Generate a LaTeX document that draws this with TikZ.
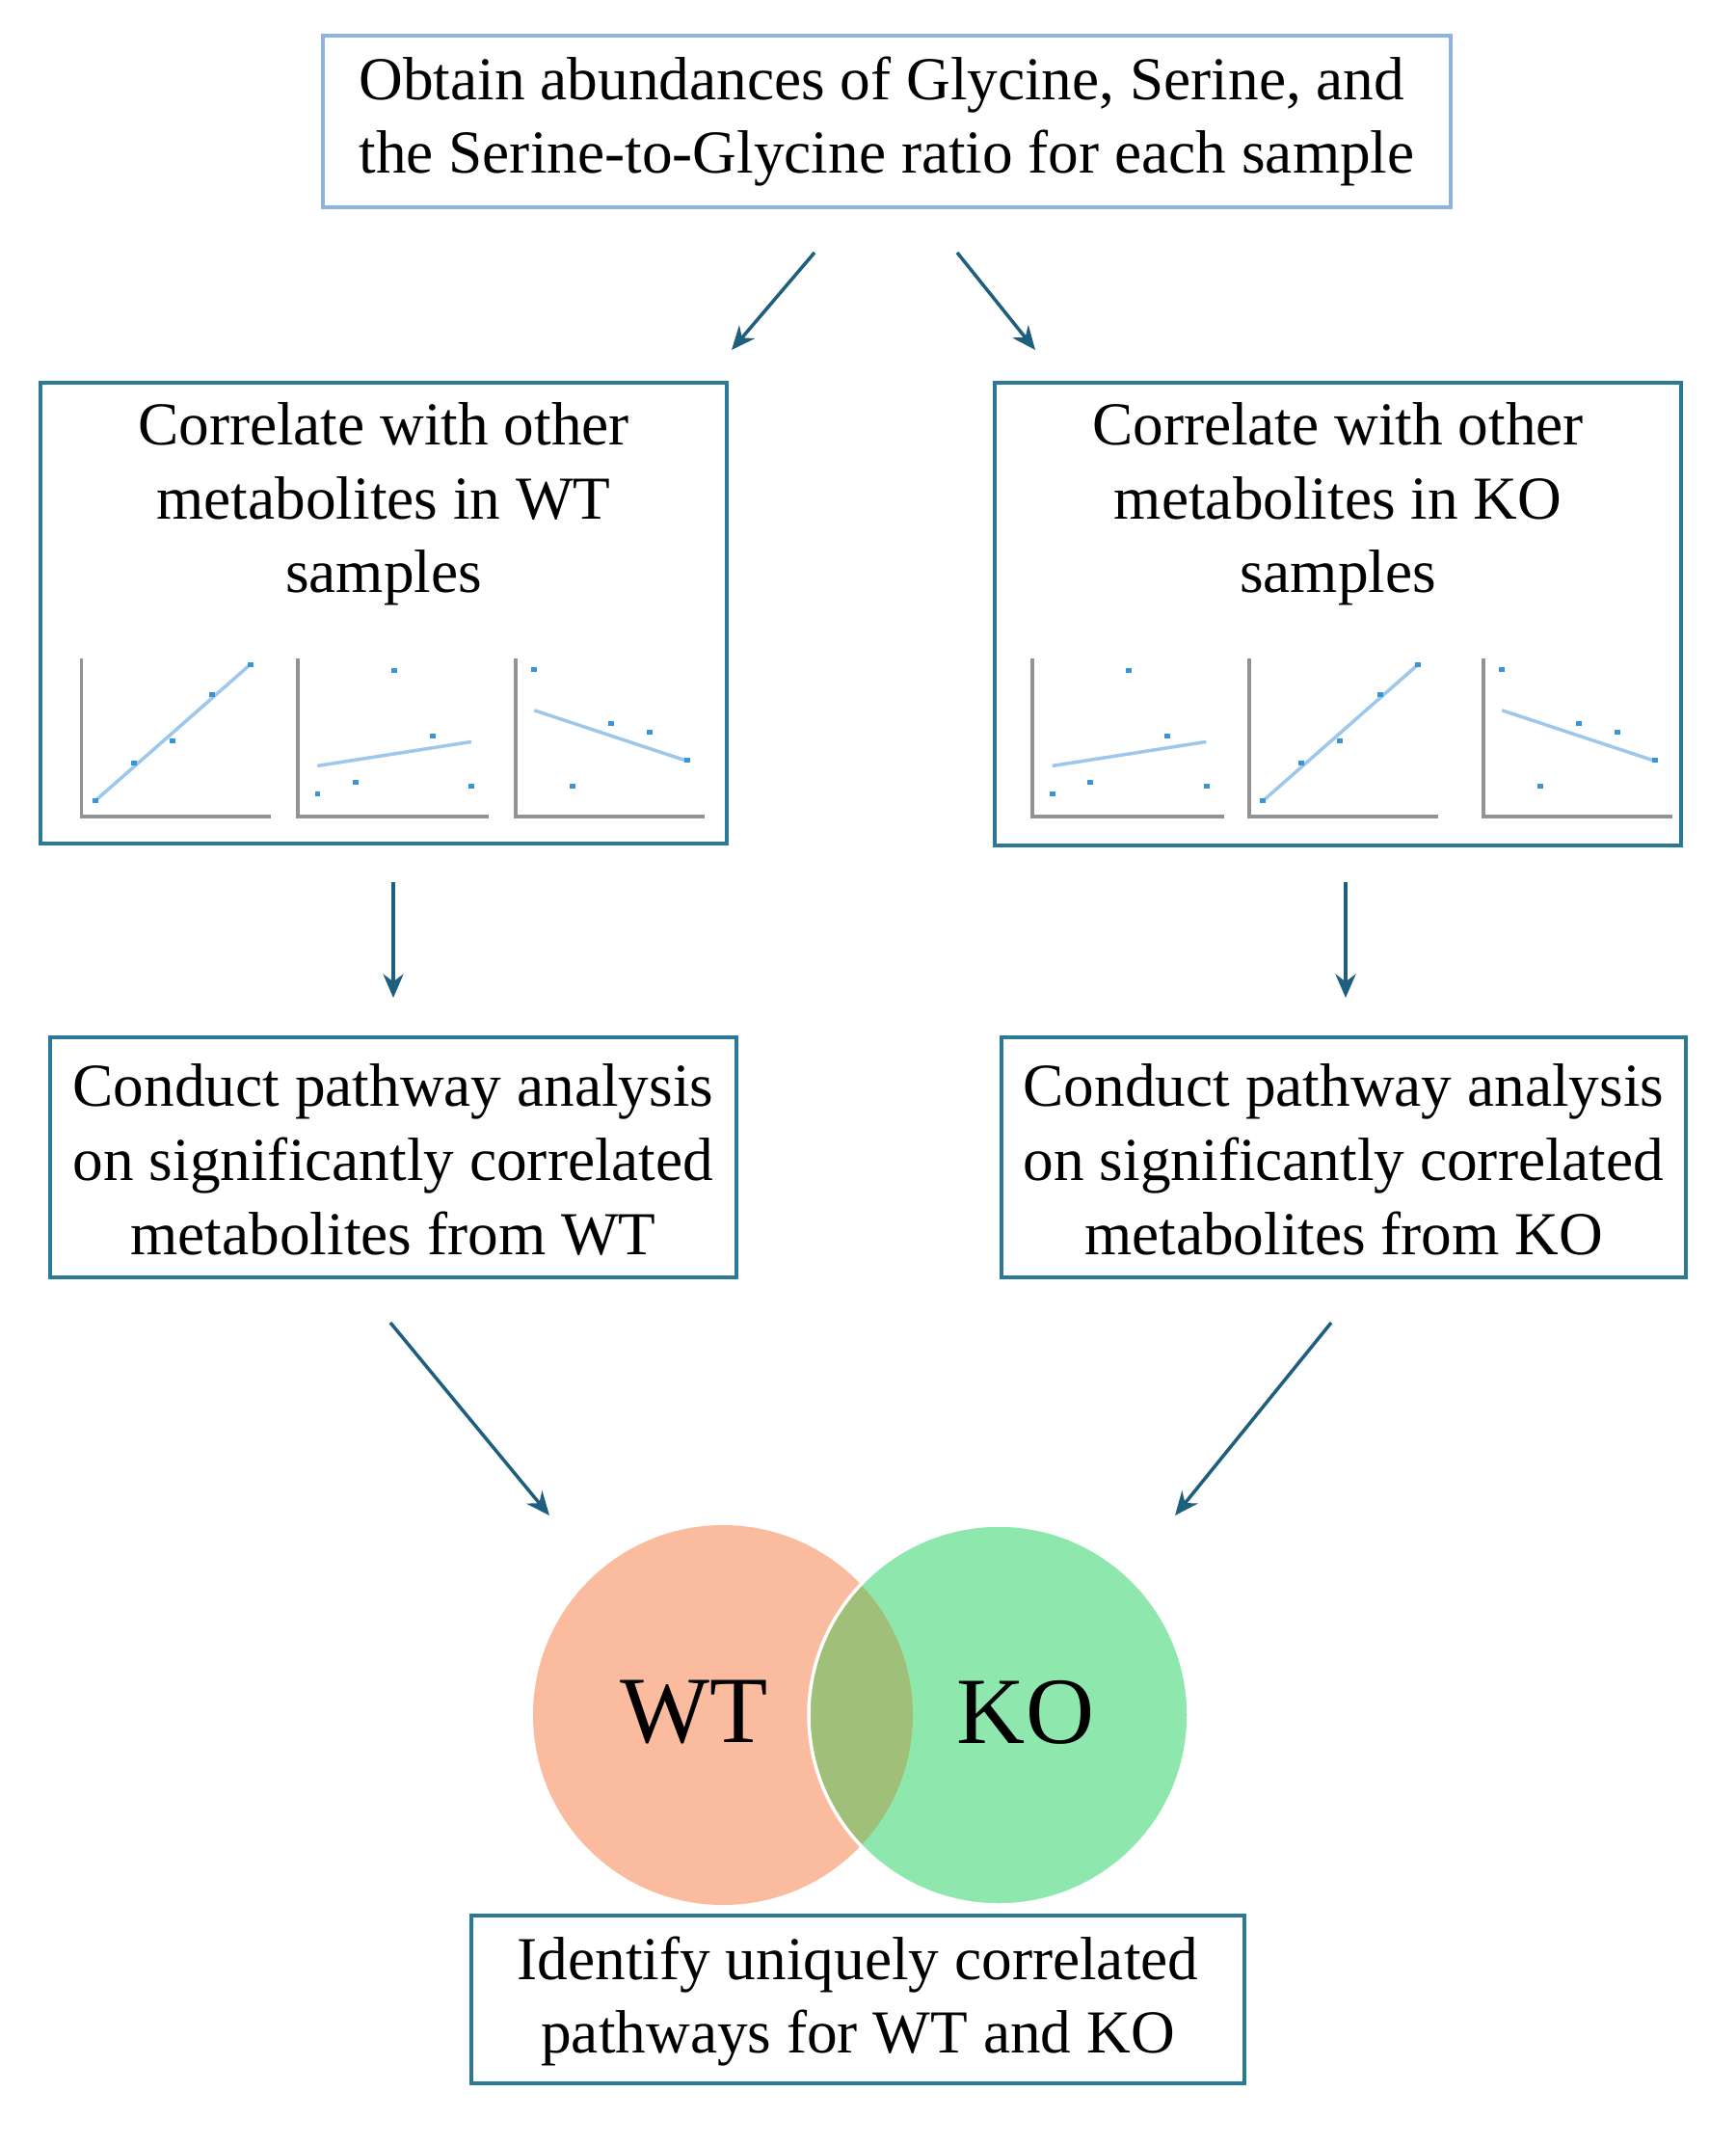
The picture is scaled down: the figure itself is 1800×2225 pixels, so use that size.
\documentclass[tikz,border=0pt]{standalone}
\usepackage{fontspec}
\setmainfont{Liberation Serif}
\usetikzlibrary{arrows.meta}
\begin{document}
\begin{tikzpicture}[x=0.01cm,y=-0.01cm,
  txt/.style={font=\fontsize{18}{21.8}\selectfont,align=center},
  arr/.style={draw=arrc,line width=1pt,-{Stealth[length=7pt,width=6pt]}},
  ax/.style={draw=gray!85,line width=1.1pt},
  fit/.style={draw=lineb,line width=1pt}]
\definecolor{teal0}{HTML}{2A7A96}
\definecolor{topb}{HTML}{8DB3E2}
\definecolor{arrc}{HTML}{1E5F7E}
\definecolor{lineb}{HTML}{9DC8EC}
\definecolor{dotb}{HTML}{3A94D8}
\definecolor{wtc}{HTML}{FABB9E}
\definecolor{koc}{HTML}{8EE8AD}
\definecolor{ovc}{HTML}{A0BF78}
\useasboundingbox (0,0) rectangle (1800,2225);
\fill[white] (0,0) rectangle (1800,2225);

% top box
\draw[topb,line width=1pt] (335,37) rectangle (1505,215);
\node[txt,align=left] (top) at (920,126) {Obtain abundances of Glycine, Serine, and\\the Serine-to-Glycine ratio for each sample};

% correlate boxes
\draw[teal0,line width=1pt] (42,397) rectangle (754,875);
\draw[teal0,line width=1pt] (1032,397) rectangle (1744,877);
\node[txt] (cwt) at (398,523) {Correlate with other\\metabolites in WT\\samples};
\node[txt] (cko) at (1388,523) {Correlate with other\\metabolites in KO\\samples};

% plots
\tikzset{
 plin/.pic={\draw[ax] (0,-492)--(0,0)--(428,0);
   \draw[fit] (31,-48)--(381,-472);
   \foreach \a/\b in {31/512,118/395,205/325,295/180,381/88}\fill[dotb] (\a-6,\b-567) rectangle ++(13,15);},
 pflat/.pic={\draw[ax] (0,-492)--(0,0)--(433,0);
   \draw[fit] (45,-157)--(393,-232);
   \foreach \a/\b in {45/490,131/455,218/105,305/310,393/466}\fill[dotb] (\a-6,\b-567) rectangle ++(13,15);},
 pneg/.pic={\draw[ax] (0,-492)--(0,0)--(427,0);
   \draw[fit] (42,-330)--(388,-172);
   \foreach \a/\b in {40/103,127/465,215/270,302/298,388/386}\fill[dotb] (\a-6,\b-567) rectangle ++(13,15);}
}
\pic[xscale=0.459,yscale=0.333] at (84.5,846.7) {plin};
\pic[xscale=0.459,yscale=0.333] at (308.6,846.7) {pflat};
\pic[xscale=0.459,yscale=0.333] at (535,846.7) {pneg};
\pic[xscale=0.459,yscale=0.333] at (1071,846.7) {pflat};
\pic[xscale=0.459,yscale=0.333] at (1296,846.7) {plin};
\pic[xscale=0.459,yscale=0.333] at (1539,846.7) {pneg};

% pathway boxes
\draw[teal0,line width=1pt] (52,1076) rectangle (764,1325);
\draw[teal0,line width=1pt] (1039,1076) rectangle (1749,1325);
\node[txt] (pwt) at (408,1203) {Conduct pathway analysis\\on significantly correlated\\metabolites from WT};
\node[txt] (pko) at (1394,1203) {Conduct pathway analysis\\on significantly correlated\\metabolites from KO};

% venn
\fill[wtc] (750,1779) circle (197);
\fill[koc] (1036,1779) circle (197);
\begin{scope}
\clip (750,1779) circle (197);
\fill[ovc] (1036,1779) circle (197);
\end{scope}
\draw[white,line width=1pt] (1036,1779) circle (197);
\node[font=\fontsize{28}{32}\selectfont] (wt) at (720,1776) {WT};
\node[font=\fontsize{28}{32}\selectfont] (ko) at (1064,1776) {KO};

% bottom box
\draw[teal0,line width=1pt] (489,1987) rectangle (1291,2161);
\node[txt] (bot) at (890,2076) {Identify uniquely correlated\\pathways for WT and KO};

% arrows
\coordinate (a1s) at (845,262); \coordinate (a1e) at (759,363);
\coordinate (a2s) at (993,262); \coordinate (a2e) at (1074,363);
\coordinate (a3s) at (408,915); \coordinate (a3e) at (408,1035);
\coordinate (a4s) at (1396,915); \coordinate (a4e) at (1396,1035);
\coordinate (a5s) at (405,1372); \coordinate (a5e) at (570,1572);
\coordinate (a6s) at (1381,1372); \coordinate (a6e) at (1219,1572);
\foreach \i in {1,...,6}\draw[arr] (a\i s) -- (a\i e);
\end{tikzpicture}
\end{document}
